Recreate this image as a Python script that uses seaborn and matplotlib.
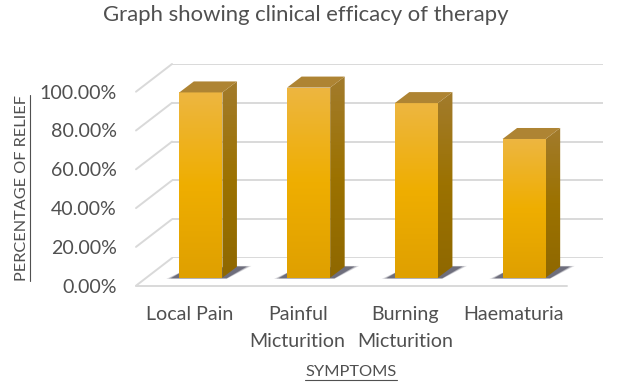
import numpy as np
import pandas as pd
import matplotlib
matplotlib.use('Agg')
import matplotlib.pyplot as plt
import seaborn as sns
from matplotlib.colors import LinearSegmentedColormap
from matplotlib.lines import Line2D
from matplotlib.patches import Polygon

#Chart data
symptoms = ['Local Pain', 'Painful\nMicturition', 'Burning\nMicturition', 'Haematuria']
relief = [0.955, 0.98, 0.90, 0.715]
y_ticks = [0, 0.2, 0.4, 0.6, 0.8, 1.0]
y_tick_labels = ['0.00%', '20.00%', '40.00%', '60.00%', '80.00%', '100.00%']

W, H = 618, 386
sns.set_style('white')
plt.rcParams['font.family'] = ['Lato', 'DejaVu Sans']

fig = plt.figure(figsize=(W / 100, H / 100), dpi=100)


#Axes placed in pixel units, y measured from the top of the picture
def plane(left, bottom_y, top_y, width=431):
    return fig.add_axes([left / W, 1 - bottom_y / H, width / W, (bottom_y - top_y) / H])


ax_back = plane(172, 258, 64)
ax_front = plane(136, 285.7, 91.7)
#bar axes is taller than the scale so the bar tops are not cut
ax_bar = plane(147, 277.7, 277.7 - 194 * 1.2)

for ax in [ax_back, ax_front, ax_bar]:
    ax.set_ylim(0, 1)
    ax.set_xlim(-0.5, 3.5)
    ax.patch.set_alpha(0)
    sns.despine(ax=ax, left=True, bottom=True)

#Back wall gridlines
GRID = '#d9d9d9'
TEXT = '#505050'
ax_back.set_yticks(y_ticks)
ax_back.set_xticks([])
ax_back.set_yticklabels([])
ax_back.tick_params(length=0)
ax_back.grid(axis='y', color=GRID, lw=1.4)
ax_back.set_axisbelow(True)
for sp in ax_back.spines.values():
    sp.set_visible(False)

#Floor line and diagonals joining the front plane to the back wall
ax_front.set_xticks(range(4))
ax_front.set_xticklabels(symptoms, fontsize=14.1, color=TEXT, linespacing=1.72)
ax_front.set_yticks(y_ticks)
ax_front.set_yticklabels(y_tick_labels, fontsize=14.1, color=TEXT)
ax_front.tick_params(length=0, axis='both')
ax_front.tick_params(axis='x', pad=14.5)
ax_front.tick_params(axis='y', pad=14)
ax_front.axhline(0, color=GRID, lw=1.4, clip_on=False)
for t in y_ticks:
    fig.add_artist(Line2D([136 / W, 172 / W],
                          [1 - (285.7 - 194 * t) / H, 1 - (258 - 194 * t) / H],
                          color=GRID, lw=1.4))

#Front faces of the bars
plot_df = pd.DataFrame({'symptom': symptoms, 'relief': relief})
sns.barplot(data=plot_df, x='symptom', y='relief', width=0.4, color='#EFAE00',
            saturation=1, ax=ax_bar)
ax_bar.axis('off')

front_cmap = LinearSegmentedColormap.from_list('front', [(0, '#EDB640'), (0.5, '#EFAE00'), (1, '#DFA000')])
side_cmap = LinearSegmentedColormap.from_list('side', [(0, '#A27B2C'), (0.5, '#9C7200'), (1, '#8F6800')])

#Depth of a bar in data units
dx = 14.5 / 107.75
dy = 11 / 194
for bar in list(ax_bar.patches):
    x0, x1 = bar.get_x(), bar.get_x() + bar.get_width()
    top = bar.get_height()
    bar.set_visible(False)

    #soft shadow on the floor, a few widening layers
    for grow, alpha in [(1.0, 0.18), (0.6, 0.3), (0.2, 0.55)]:
        ax_bar.add_patch(Polygon([(x0 - (0.5 + 0.4 * grow) * dx, -0.002 - 0.004 * grow),
                                  (x1 + 0.3 * dx, -0.002 - 0.004 * grow),
                                  (x1 + (1.6 + 0.4 * grow) * dx, dy * 1.0 + 0.004 * grow),
                                  (x1 + 0.5 * dx, dy * 1.0 + 0.004 * grow),
                                  (x0, 0.022 + 0.004 * grow)],
                                 closed=True, fc='#3c3c50', ec='none', alpha=alpha, clip_on=False, zorder=1))

    face = ax_bar.imshow(np.linspace(0, 1, 64).reshape(-1, 1), cmap=front_cmap, aspect='auto',
                         extent=[x0, x1, 0, top], origin='upper', zorder=3)
    face.set_clip_path(Polygon([(x0, 0), (x1, 0), (x1, top), (x0, top)], transform=ax_bar.transData))

    side_pts = [(x1, 0), (x1 + dx, dy), (x1 + dx, top + dy), (x1, top)]
    side = ax_bar.imshow(np.linspace(0, 1, 64).reshape(-1, 1), cmap=side_cmap, aspect='auto',
                         extent=[x1, x1 + dx, 0, top + dy], origin='upper', zorder=3)
    side.set_clip_path(Polygon(side_pts, transform=ax_bar.transData))

    ax_bar.add_patch(Polygon([(x0, top), (x1, top), (x1 + dx, top + dy), (x0 + dx, top + dy)],
                             closed=True, fc='#AE8433', ec='none', clip_on=False, zorder=3))
ax_bar.set_xlim(-0.5, 3.5)
ax_bar.set_ylim(0, 1.2)

#Titles
fig.text(306 / W, 1 - 15 / H, 'Graph showing clinical efficacy of therapy', fontsize=15.9,
         color=TEXT, ha='center', va='center')
x_lab = fig.text(351 / W, 1 - 372 / H, 'SYMPTOMS', fontsize=11.8, color=TEXT, ha='center', va='center')
y_lab = fig.text(22 / W, 1 - 188 / H, 'PERCENTAGE OF RELIEF', fontsize=11.7, color=TEXT,
                 rotation=90, ha='center', va='center')

#Underlines sit just under the axis titles
fig.canvas.draw()
bb = x_lab.get_window_extent()
fig.add_artist(Line2D([bb.x0 / W, bb.x1 / W], [(bb.y0 - 0.5) / H] * 2, color=TEXT, lw=0.8))
bb = y_lab.get_window_extent()
fig.add_artist(Line2D([(bb.x1 + 0.5) / W] * 2, [bb.y0 / H, bb.y1 / H], color=TEXT, lw=0.8))

fig.savefig('out.png', dpi=100)
